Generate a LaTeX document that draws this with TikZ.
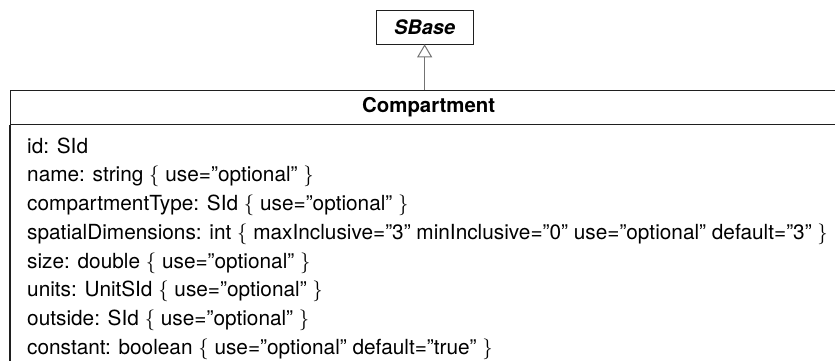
\documentclass[tikz,border=0pt]{standalone}
\usepackage{fontspec}
\setmainfont{TeX Gyre Heros}
\usetikzlibrary{arrows.meta}
\begin{document}
\begin{tikzpicture}[x=1pt,y=-1pt,
  txt/.style={inner sep=0pt,font=\fontsize{20}{24}\selectfont},
  attr/.style={inner sep=0pt,font=\fontsize{20.8}{25}\selectfont,anchor=base west},
  boxline/.style={draw=black!88,line width=1.3pt},
  genline/.style={draw=black!55,line width=1.2pt,-{Triangle[open,length=13pt,width=15pt,line width=1pt]}}]
\useasboundingbox (0,0) rectangle (835,360);
\clip (0,0) rectangle (835,360);
% SBase class
\node (sbase) [boxline,txt,minimum width=97pt,minimum height=34pt,anchor=north west,
  font=\fontsize{20}{24}\selectfont\bfseries\itshape] at (375.5,10) {SBase};
% Compartment class (extends beyond the right and bottom edges)
\node (head) [boxline,txt,minimum width=836pt,minimum height=34pt,anchor=north west,
  font=\fontsize{20.4}{24}\selectfont\bfseries] at (10,90) {Compartment};
\draw[boxline] (head.south west) -- (10,380);
\coordinate (top) at (sbase.south |- head.north);
\draw[genline] (top) -- ([yshift=1pt]sbase.south);
% attributes
\node (a1) [attr] at (27,153) {id: SId};
\node (a2) [attr] at (27,181.75) {name: string $\{$ use=”optional” $\}$};
\node (a3) [attr] at (27,210.5) {compartmentType: SId $\{$ use=”optional” $\}$};
\node (a4) [attr] at (27,239.25) {spatialDimensions: int $\{$ maxInclusive=”3” minInclusive=”0” use=”optional” default=”3” $\}$};
\node (a5) [attr] at (27,268) {size: double $\{$ use=”optional” $\}$};
\node (a6) [attr] at (27,296.75) {units: UnitSId $\{$ use=”optional” $\}$};
\node (a7) [attr] at (27,325.5) {outside: SId $\{$ use=”optional” $\}$};
\node (a8) [attr] at (27,354.25) {constant: boolean $\{$ use=”optional” default=”true” $\}$};
\end{tikzpicture}
\end{document}
